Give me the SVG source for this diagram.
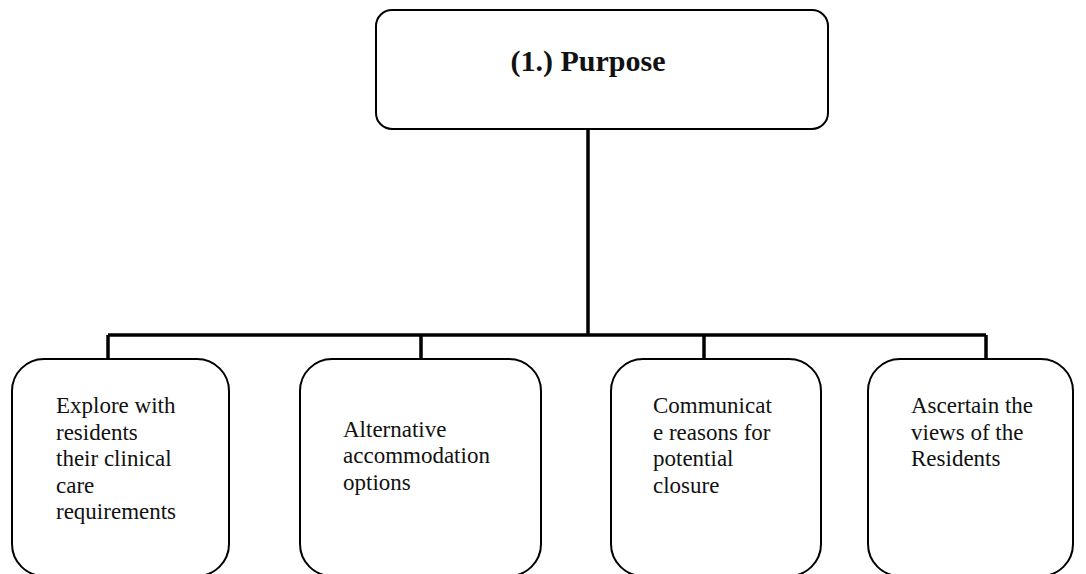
<svg xmlns="http://www.w3.org/2000/svg" width="1086" height="574" viewBox="0 0 1086 574">
<style>
.box{fill:#fff;stroke:#000;stroke-width:2}
.conn{fill:none;stroke:#000;stroke-width:3.5}
.t{font-family:"Liberation Serif",serif;font-size:23px;fill:#111}
.title{font-family:"Liberation Serif",serif;font-size:30px;font-weight:bold;fill:#111}
</style>
<rect width="1086" height="574" fill="#fff"/>
<g id="connectors">
<path class="conn" d="M588 129V335M108 335H986M108 335V359M421 335V359M704 335V359M986 335V359"/>
</g>
<g id="purpose">
<rect class="box" x="376" y="10" width="452" height="119" rx="16"/>
<text class="title" x="588" y="71" text-anchor="middle">(1.) Purpose</text>
</g>
<g id="explore">
<rect class="box" x="12" y="359" width="217" height="217" rx="32"/>
<text class="t"><tspan x="56" y="413">Explore with</tspan><tspan x="56" y="440">residents</tspan><tspan x="56" y="466">their clinical</tspan><tspan x="56" y="493">care</tspan><tspan x="56" y="519">requirements</tspan></text>
</g>
<g id="alternative">
<rect class="box" x="300" y="359" width="241" height="217" rx="32"/>
<text class="t"><tspan x="343" y="437">Alternative</tspan><tspan x="343" y="463">accommodation</tspan><tspan x="343" y="490">options</tspan></text>
</g>
<g id="communicate">
<rect class="box" x="611" y="359" width="210" height="217" rx="32"/>
<text class="t"><tspan x="653" y="413">Communicat</tspan><tspan x="653" y="440">e reasons for</tspan><tspan x="653" y="466">potential</tspan><tspan x="653" y="493">closure</tspan></text>
</g>
<g id="ascertain">
<rect class="box" x="868" y="359" width="205" height="217" rx="32"/>
<text class="t"><tspan x="911" y="413">Ascertain the</tspan><tspan x="911" y="440">views of the</tspan><tspan x="911" y="466">Residents</tspan></text>
</g>
</svg>
